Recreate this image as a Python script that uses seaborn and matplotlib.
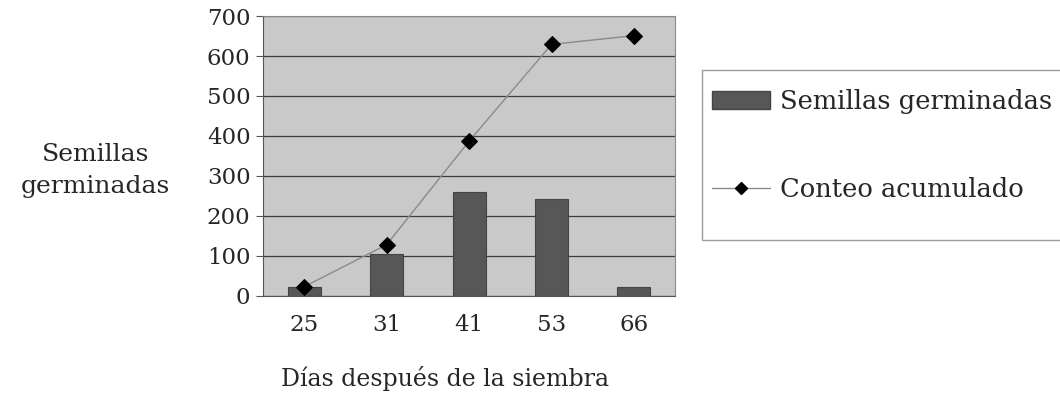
import numpy as np
import pandas as pd
import matplotlib
matplotlib.use("Agg")
import matplotlib.pyplot as plt
import seaborn as sns
from matplotlib.patches import Patch, Rectangle
from matplotlib.lines import Line2D

# datos
dias = ["25", "31", "41", "53", "66"]
germinadas = [23, 105, 259, 242, 22]
acumulado = [23, 128, 387, 629, 651]

sns.set_style("white")
plt.rcParams["font.family"] = ["DejaVu Serif"]

df = pd.DataFrame({"dias": dias, "germinadas": germinadas,
                   "acumulado": acumulado, "pos": range(len(dias))})

fig = plt.figure(figsize=(10.6, 4.11), dpi=100)
ax = fig.add_axes([0.248, 0.280, 0.389, 0.681])
ax.set_facecolor("#c9c9c9")

sns.barplot(data=df, x="dias", y="germinadas", color="#575757",
            width=0.4, saturation=1, edgecolor="#444444", linewidth=0.8, ax=ax)
sns.lineplot(data=df, x="pos", y="acumulado", color="#8a8a8a", linewidth=1,
             marker="D", markersize=8.5, markerfacecolor="black",
             markeredgecolor="black", ax=ax)

ax.set_xlim(-0.5, 4.5)
ax.set_ylim(0, 700)
ax.set_yticks(range(0, 701, 100))
ax.set_xticks(range(len(dias)))
ax.set_xticklabels(dias)
ax.set_xticks(np.arange(-0.5, 4.6, 1), minor=True)
ax.tick_params(axis="x", which="major", length=0, labelsize=16.5, pad=13)
ax.tick_params(axis="x", which="minor", length=10, direction="inout",
               color="#555555", width=0.8)
ax.tick_params(axis="y", length=5, direction="out", labelsize=16.5, pad=4,
               color="#555555", width=0.8, left=True)
ax.grid(axis="y", color="#3c3c3c", linewidth=0.9)
ax.set_axisbelow(True)
for s in ax.spines.values():
    s.set_color("#8a8a8a")
    s.set_linewidth(0.8)
ax.spines["left"].set_color("#555555")
ax.spines["bottom"].set_color("#555555")

ax.set_xlabel("")
ax.set_ylabel("")
fig.text(0.090, 0.584, "Semillas\ngerminadas", ha="center", va="center",
         fontsize=18, linespacing=1.5)
fig.text(0.420, 0.080, "Días después de la siembra", ha="center", va="center",
         fontsize=17)

# marco de la leyenda (cortado por el borde derecho, como en el original)
fig.patches.append(Rectangle((702 / 1060, 1 - 240 / 411), 0.4, 170 / 411,
                             transform=fig.transFigure, facecolor="white",
                             edgecolor="#9a9a9a", linewidth=1, zorder=0))

handles = [Patch(facecolor="#575757", edgecolor="#444444"),
           Line2D([], [], color="#8a8a8a", linewidth=1, marker="D",
                  markersize=6.5, markerfacecolor="black", markeredgecolor="black")]
leg = fig.legend(handles, ["Semillas germinadas", "Conteo acumulado"],
                 loc="upper left", bbox_to_anchor=(712 / 1060, 1 - 89 / 411),
                 fontsize=18.5, frameon=False,
                 labelspacing=2.45, handlelength=2.25, handletextpad=0.4,
                 borderpad=0, borderaxespad=0)

fig.savefig("out.png", dpi=100)
